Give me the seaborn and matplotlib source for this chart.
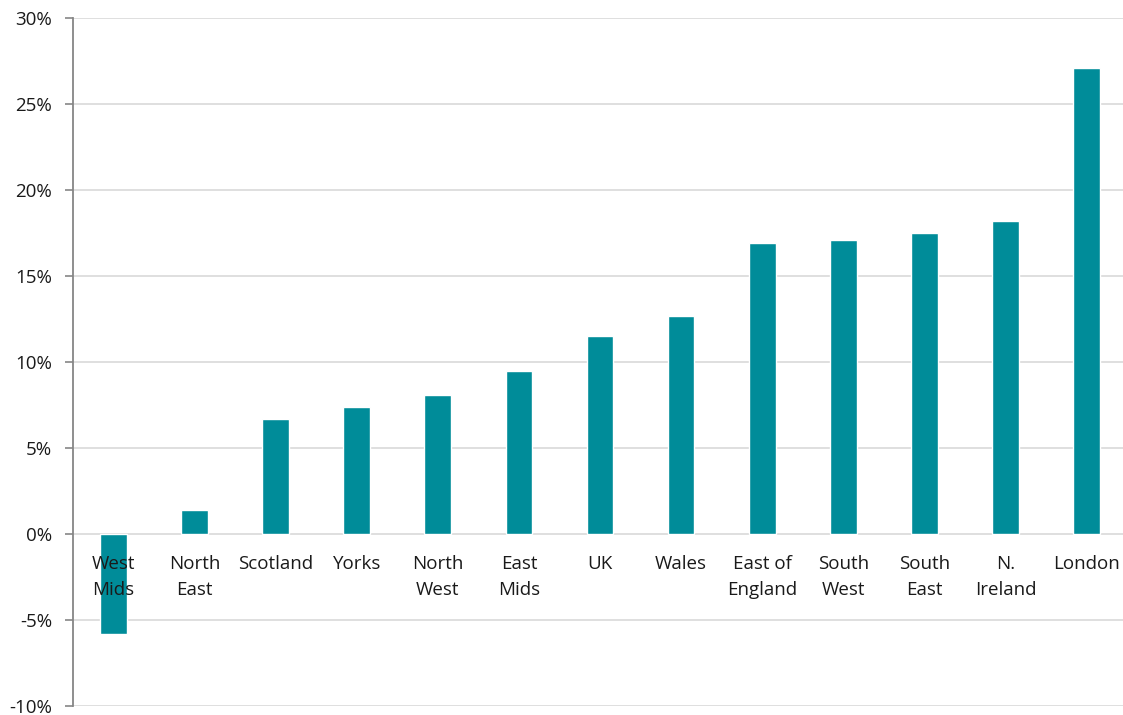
import matplotlib
matplotlib.use("Agg")
import matplotlib.pyplot as plt
import matplotlib.ticker as mticker
import seaborn as sns
import pandas as pd

regions = ["West\nMids", "North\nEast", "Scotland", "Yorks", "North\nWest", "East\nMids",
           "UK", "Wales", "East of\nEngland", "South\nWest", "South\nEast", "N.\nIreland", "London"]
growth = [-5.8, 1.4, 6.7, 7.4, 8.1, 9.5, 11.5, 12.7, 16.9, 17.1, 17.5, 18.2, 27.1]
y_ticks = [-10, -5, 0, 5, 10, 15, 20, 25, 30]

sns.set_theme(style="white")
plt.rcParams["font.family"] = ["Open Sans", "DejaVu Sans"]

df = pd.DataFrame({"region": regions, "growth": growth})

fig = plt.figure(figsize=(11.23, 7.15), dpi=100)
ax = fig.add_axes([73 / 1123, 1 - 706 / 715, (1127 - 73) / 1123, (706 - 18) / 715])

sns.barplot(data=df, x="region", y="growth", color="#008C99", saturation=1,
            width=0.33, ax=ax, zorder=3)

ax.set_ylim(-10, 30)
ax.set_xlim(-0.5, len(regions) - 0.5)
ax.set_yticks(y_ticks)
ax.yaxis.set_major_formatter(mticker.FuncFormatter(lambda v, _: f"{v:.0f}%"))
ax.grid(axis="y", color="#D9D9D9", linewidth=1.2, zorder=0)
ax.set_xlabel("")
ax.set_ylabel("")
ax.set_xticks([])

for side in ["top", "right", "bottom"]:
    ax.spines[side].set_visible(False)
ax.spines["left"].set_color("#868686")
ax.spines["left"].set_linewidth(1.3)
ax.tick_params(axis="y", which="major", left=True, length=6, width=1.2,
               color="#868686", labelsize=13.5, labelcolor="#1a1a1a", pad=9)

# Category names sit just under the zero line
for i, name in enumerate(regions):
    ax.annotate(name, xy=(i, 0), xytext=(0, -15), textcoords="offset points",
                ha="center", va="top", fontsize=13.5, color="#1a1a1a",
                linespacing=1.55, zorder=4)

fig.savefig("out.png", dpi=100)
